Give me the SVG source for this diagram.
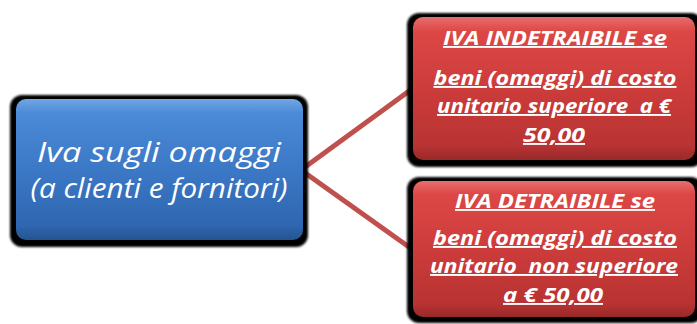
<svg xmlns="http://www.w3.org/2000/svg" width="697" height="324" viewBox="0 0 697 324">
<style>
.shadow{fill:#000;filter:url(#blur)}
.blue{fill:url(#gBlue)}
.red{fill:url(#gRed)}
.gloss{fill:url(#gGloss)}
.conn{stroke:#c0504d;stroke-width:5;fill:none;stroke-linecap:butt}
.t1{font-family:"Open Sans","Liberation Sans",sans-serif;font-style:italic;font-size:28px;fill:#fff;text-anchor:middle}
.t2{font-family:"Open Sans","Liberation Sans",sans-serif;font-style:italic;font-weight:bold;font-size:19px;fill:#fff;text-anchor:middle;text-decoration:underline}
</style>
<defs>
<filter id="blur" x="-10%" y="-10%" width="120%" height="120%"><feGaussianBlur stdDeviation="1.2"/></filter>
<linearGradient id="gBlue" x1="0" y1="0" x2="0" y2="1">
<stop offset="0" stop-color="#4f8fdc"/>
<stop offset="0.5" stop-color="#3b78c6"/>
<stop offset="1" stop-color="#2c62aa"/>
</linearGradient>
<linearGradient id="gRed" x1="0" y1="0" x2="0" y2="1">
<stop offset="0" stop-color="#e04a48"/>
<stop offset="0.5" stop-color="#cc3c3b"/>
<stop offset="1" stop-color="#b33130"/>
</linearGradient>
<linearGradient id="gGloss" x1="0" y1="0" x2="0" y2="1">
<stop offset="0" stop-color="#fff" stop-opacity="0.2"/>
<stop offset="0.1" stop-color="#fff" stop-opacity="0"/>
<stop offset="0.9" stop-color="#000" stop-opacity="0"/>
<stop offset="1" stop-color="#000" stop-opacity="0.15"/>
</linearGradient>
</defs>
<g id="connectors">
<line class="conn" x1="301" y1="170" x2="416" y2="86"/>
<line class="conn" x1="301" y1="170" x2="416" y2="252"/>
</g>
<g id="node-main">
<rect class="shadow" x="10" y="95" width="298" height="152" rx="12"/>
<rect class="blue" x="16" y="99" width="287" height="141" rx="10"/>
<rect class="gloss" x="16" y="99" width="287" height="141" rx="10"/>
<text class="t1" x="159" y="162" textLength="244" lengthAdjust="spacingAndGlyphs">Iva sugli omaggi</text>
<text class="t1" x="159" y="198" textLength="257" lengthAdjust="spacingAndGlyphs">(a clienti e fornitori)</text>
</g>
<g id="node-indetraibile">
<rect class="shadow" x="407" y="13" width="296" height="154" rx="12"/>
<rect class="red" x="413" y="17" width="282" height="143" rx="10"/>
<rect class="gloss" x="413" y="17" width="282" height="143" rx="10"/>
<text class="t2" x="555" y="45" textLength="224" lengthAdjust="spacingAndGlyphs">IVA INDETRAIBILE se</text>
<text class="t2" x="555" y="85" textLength="243" lengthAdjust="spacingAndGlyphs">beni (omaggi) di costo</text>
<text class="t2" x="554" y="113" textLength="234" lengthAdjust="spacingAndGlyphs">unitario superiore&#160; a €</text>
<text class="t2" x="554" y="142" textLength="62" lengthAdjust="spacingAndGlyphs">50,00</text>
</g>
<g id="node-detraibile">
<rect class="shadow" x="407" y="177" width="296" height="146" rx="12"/>
<rect class="red" x="413" y="181" width="282" height="136" rx="10"/>
<rect class="gloss" x="413" y="181" width="282" height="136" rx="10"/>
<text class="t2" x="555" y="208" textLength="200" lengthAdjust="spacingAndGlyphs">IVA DETRAIBILE se</text>
<text class="t2" x="555" y="245" textLength="244" lengthAdjust="spacingAndGlyphs">beni (omaggi) di costo</text>
<text class="t2" x="554" y="273" textLength="248" lengthAdjust="spacingAndGlyphs">unitario&#160; non superiore</text>
<text class="t2" x="553" y="302" textLength="100" lengthAdjust="spacingAndGlyphs">a € 50,00</text>
</g>
</svg>
